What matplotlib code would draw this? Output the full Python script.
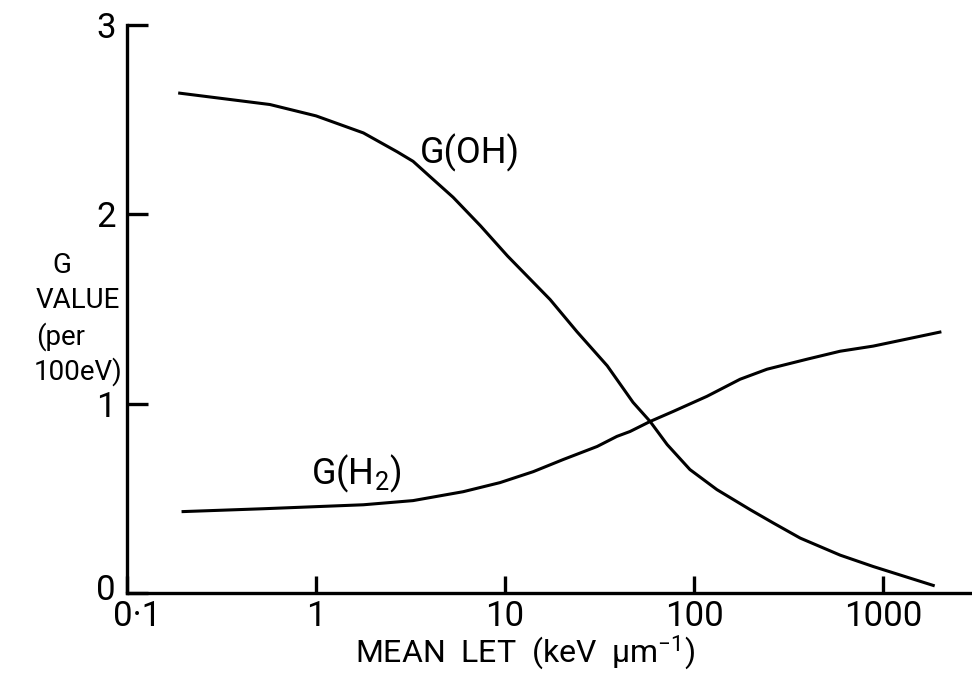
import numpy as np
import matplotlib
matplotlib.use('Agg')
import matplotlib.pyplot as plt
from matplotlib.transforms import ScaledTranslation

plt.rcParams['font.family'] = ['Roboto', 'DejaVu Sans']
plt.rcParams['mathtext.fontset'] = 'custom'
plt.rcParams['mathtext.rm'] = 'Roboto'
plt.rcParams['mathtext.default'] = 'rm'

# G(OH): LET (keV/um), G value (per 100 eV)
let_oh = [0.19, 0.57, 1.0, 1.78, 2.69, 3.26, 4.0, 5.31, 7.4, 10.3, 17.3, 24, 34.7, 47.5, 58.5,
          72, 95, 132, 198, 262, 364, 592, 885, 1840]
g_oh   = [2.64, 2.58, 2.52, 2.43, 2.33, 2.28, 2.20, 2.09, 1.94, 1.78, 1.55, 1.38, 1.20, 1.007, 0.906,
          0.784, 0.652, 0.546, 0.44, 0.37, 0.29, 0.20, 0.14, 0.04]

# G(H2)
let_h2 = [0.198, 0.525, 1.78, 3.26, 6.0, 9.4, 14.1, 20.3, 30.7, 39, 45.8, 58.5, 77.5,
          117, 175, 243, 396, 592, 885, 1330, 1995]
g_h2   = [0.43, 0.445, 0.466, 0.488, 0.535, 0.583, 0.641, 0.705, 0.774, 0.827, 0.853, 0.906, 0.959,
          1.039, 1.129, 1.182, 1.235, 1.277, 1.304, 1.341, 1.378]

xticks      = [0.1, 1, 10, 100, 1000]
xticklabels = ['0·1', '1', '10', '100', '1000']
yticks      = [0, 1, 2, 3]

fig = plt.figure(figsize=(9.72, 6.75), dpi=100)
ax = fig.add_axes([127/972, 82/675, 1 - 127/972, (593-25)/675])

ax.plot(let_oh, g_oh, color='black', lw=2.2)
ax.plot(let_h2, g_h2, color='black', lw=2.2)

ax.set_xscale('log')
ax.set_xlim(0.1, 2950)
ax.set_ylim(0, 3)
ax.set_xticks(xticks)
ax.set_xticklabels(xticklabels)
ax.minorticks_off()
ax.set_yticks(yticks)
ax.set_yticklabels([str(v) for v in yticks])

for s in ['top', 'right']:
    ax.spines[s].set_visible(False)
for s in ['left', 'bottom']:
    ax.spines[s].set_linewidth(2.4)

ax.tick_params(axis='x', direction='in', length=12, width=2.4, labelsize=25, pad=5)
ax.tick_params(axis='y', direction='in', length=15, width=2.4, labelsize=25, pad=8)

# nudge the two corner labels apart like in the original
xt0 = ax.xaxis.get_major_ticks()[0].label1
xt0.set_transform(xt0.get_transform() + ScaledTranslation(10/100, 0, fig.dpi_scale_trans))
yt0 = ax.yaxis.get_major_ticks()[0].label1
yt0.set_transform(yt0.get_transform() + ScaledTranslation(0, 6/100, fig.dpi_scale_trans))

ax.text(6.5, 2.268, 'G(OH)', fontsize=26, ha='center', va='baseline')
ax.text(1.63, 0.572, 'G(H$_2$)', fontsize=26, ha='center', va='baseline')

fig.text(525/972, (675-652)/675, 'MEAN  LET  (keV  μm$^{-1}$)', fontsize=23,
         ha='center', va='center')

fig.text(62/972, (675-266)/675, 'G', fontsize=20, ha='center', va='center')
fig.text(36/972, (675-301)/675, 'VALUE', fontsize=20, ha='left', va='center')
fig.text(36/972, (675-337)/675, '(per', fontsize=20, ha='left', va='center')
fig.text(122/972, (675-372)/675, '100eV)', fontsize=20, ha='right', va='center')

fig.savefig('out.png', dpi=100)
